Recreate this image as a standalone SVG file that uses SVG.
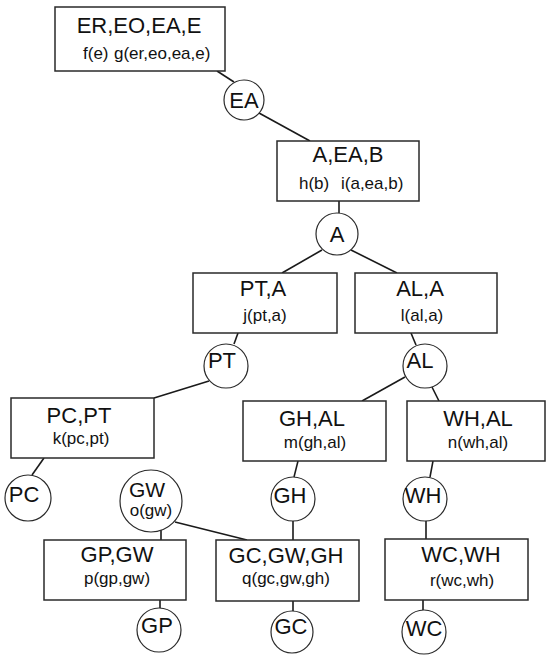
<svg xmlns="http://www.w3.org/2000/svg" width="546" height="656" viewBox="0 0 546 656">
  <style>
    .box { fill: #fff; stroke: #2a2a2a; stroke-width: 1.5; }
    .sep { fill: #fff; stroke: #2a2a2a; stroke-width: 1.2; }
    .edge { stroke: #1a1a1a; stroke-width: 1.6; fill: none; }
    text { font-family: "Liberation Sans", Arial, Helvetica, sans-serif; fill: #111; }
    .title { font-size: 22px; text-anchor: middle; }
    .sub { font-size: 17px; text-anchor: middle; }
    .subl { font-size: 17px; }
    .var { font-size: 22px; text-anchor: middle; }
  </style>

  <!-- connectors -->
  <g id="connectors">
    <line class="edge" x1="217" y1="71" x2="234" y2="82"/>
    <line class="edge" x1="259" y1="113" x2="310" y2="141"/>
    <line class="edge" x1="339" y1="201" x2="339" y2="213"/>
    <line class="edge" x1="322" y1="250" x2="282" y2="273"/>
    <line class="edge" x1="351" y1="250" x2="397" y2="273"/>
    <line class="edge" x1="238" y1="333" x2="234" y2="344"/>
    <line class="edge" x1="411" y1="333" x2="416" y2="345"/>
    <line class="edge" x1="209" y1="381" x2="154" y2="398"/>
    <line class="edge" x1="405" y1="377" x2="362" y2="401"/>
    <line class="edge" x1="432" y1="387" x2="439" y2="401"/>
    <line class="edge" x1="44" y1="458" x2="32" y2="475"/>
    <line class="edge" x1="298" y1="461" x2="294" y2="477"/>
    <line class="edge" x1="433" y1="461" x2="430" y2="477"/>
    <line class="edge" x1="161" y1="530" x2="161" y2="540"/>
    <line class="edge" x1="175" y1="522" x2="247" y2="540"/>
    <line class="edge" x1="293" y1="521" x2="293" y2="540"/>
    <line class="edge" x1="426" y1="521" x2="426" y2="539"/>
    <line class="edge" x1="160" y1="600" x2="160" y2="608"/>
    <line class="edge" x1="293" y1="601" x2="293" y2="611"/>
    <line class="edge" x1="423" y1="600" x2="423" y2="610"/>
  </g>

  <!-- cliques -->
  <g id="clique-er-eo-ea-e">
    <rect class="box" x="55" y="7" width="170" height="64"/>
    <text class="title" x="139" y="33">ER,EO,EA,E</text>
    <text class="subl" y="59"><tspan x="83">f(e)</tspan><tspan x="114">g(er,eo,ea,e)</tspan></text>
  </g>
  <g id="clique-a-ea-b">
    <rect class="box" x="277" y="141" width="142" height="60"/>
    <text class="title" x="348" y="162">A,EA,B</text>
    <text class="subl" y="189"><tspan x="299">h(b)</tspan><tspan x="341">i(a,ea,b)</tspan></text>
  </g>
  <g id="clique-pt-a">
    <rect class="box" x="193" y="273" width="144" height="60"/>
    <text class="title" x="263" y="296">PT,A</text>
    <text class="sub" x="265" y="321">j(pt,a)</text>
  </g>
  <g id="clique-al-a">
    <rect class="box" x="355" y="273" width="142" height="60"/>
    <text class="title" x="420" y="296">AL,A</text>
    <text class="sub" x="422" y="321">l(al,a)</text>
  </g>
  <g id="clique-pc-pt">
    <rect class="box" x="11" y="398" width="143" height="60"/>
    <text class="title" x="79" y="423">PC,PT</text>
    <text class="sub" x="81" y="444">k(pc,pt)</text>
  </g>
  <g id="clique-gh-al">
    <rect class="box" x="243" y="401" width="143" height="60"/>
    <text class="title" x="312" y="426">GH,AL</text>
    <text class="sub" x="315" y="448">m(gh,al)</text>
  </g>
  <g id="clique-wh-al">
    <rect class="box" x="407" y="401" width="138" height="60"/>
    <text class="title" x="478" y="426">WH,AL</text>
    <text class="sub" x="478" y="448">n(wh,al)</text>
  </g>
  <g id="clique-gp-gw">
    <rect class="box" x="44" y="540" width="142" height="60"/>
    <text class="title" x="117" y="562">GP,GW</text>
    <text class="sub" x="117" y="584">p(gp,gw)</text>
  </g>
  <g id="clique-gc-gw-gh">
    <rect class="box" x="216" y="540" width="143" height="61"/>
    <text class="title" x="286" y="563">GC,GW,GH</text>
    <text class="sub" x="286" y="584">q(gc,gw,gh)</text>
  </g>
  <g id="clique-wc-wh">
    <rect class="box" x="385" y="539" width="143" height="61"/>
    <text class="title" x="461" y="562">WC,WH</text>
    <text class="sub" x="462" y="586">r(wc,wh)</text>
  </g>

  <!-- separators -->
  <g id="sep-ea">
    <circle class="sep" cx="244" cy="100" r="20"/>
    <text class="var" x="244" y="108">EA</text>
  </g>
  <g id="sep-a">
    <circle class="sep" cx="337" cy="234" r="21"/>
    <text class="var" x="337" y="242">A</text>
  </g>
  <g id="sep-pt">
    <circle class="sep" cx="226" cy="366" r="22"/>
    <text class="var" x="222" y="368">PT</text>
  </g>
  <g id="sep-al">
    <circle class="sep" cx="425" cy="366" r="22"/>
    <text class="var" x="420" y="368">AL</text>
  </g>
  <g id="sep-pc">
    <circle class="sep" cx="28" cy="498" r="23"/>
    <text class="var" x="24" y="502">PC</text>
  </g>
  <g id="sep-gw">
    <circle class="sep" cx="151" cy="501" r="31"/>
    <text class="var" x="147" y="497" style="font-size:21px">GW</text>
    <text class="sub" x="151" y="516">o(gw)</text>
  </g>
  <g id="sep-gh">
    <circle class="sep" cx="293" cy="499" r="22"/>
    <text class="var" x="290" y="503">GH</text>
  </g>
  <g id="sep-wh">
    <circle class="sep" cx="425" cy="499" r="22"/>
    <text class="var" x="423" y="503">WH</text>
  </g>
  <g id="sep-gp">
    <circle class="sep" cx="159" cy="630" r="22"/>
    <text class="var" x="157" y="633">GP</text>
  </g>
  <g id="sep-gc">
    <circle class="sep" cx="292" cy="632" r="21"/>
    <text class="var" x="291" y="634">GC</text>
  </g>
  <g id="sep-wc">
    <circle class="sep" cx="424" cy="632" r="22"/>
    <text class="var" x="424" y="636">WC</text>
  </g>
</svg>
